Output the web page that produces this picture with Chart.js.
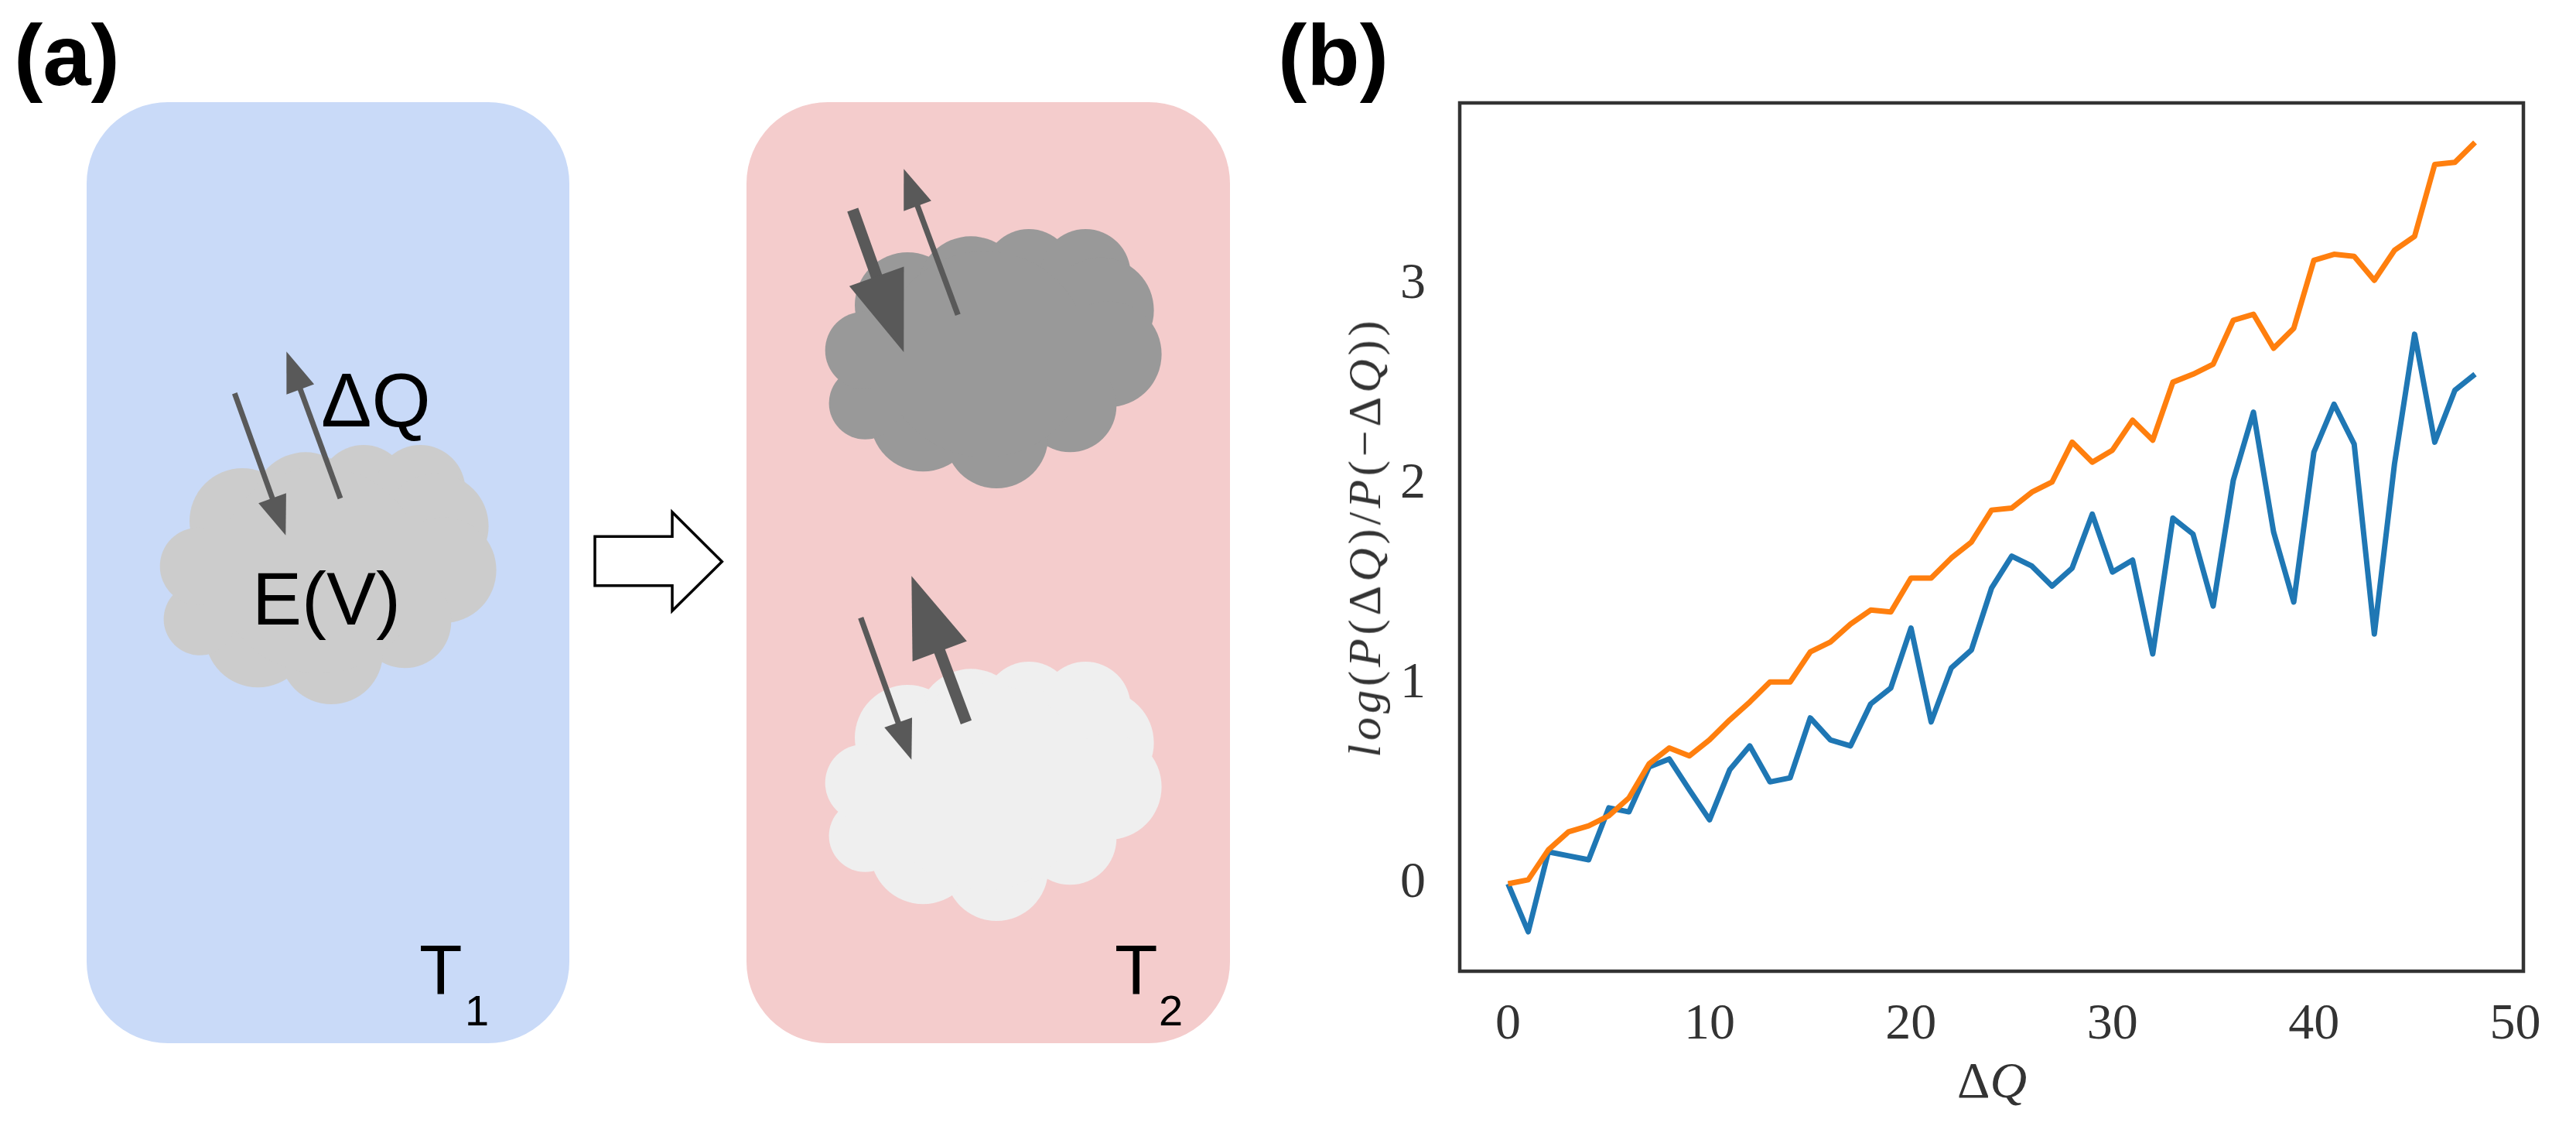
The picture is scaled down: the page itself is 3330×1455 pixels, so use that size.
<!DOCTYPE html>
<html>
<head>
<meta charset="utf-8">
<script src="https://cdn.jsdelivr.net/npm/chart.js@4.4.1/dist/chart.umd.min.js"></script>
<style>
html, body { margin: 0; padding: 0; background: #fff; }
body { width: 3330px; height: 1455px; position: relative; overflow: hidden; font-family: "Liberation Sans", Arial, sans-serif; }
#diagram { position: absolute; left: 0; top: 0; }
#plotBox { position: absolute; left: 1650px; top: 0; width: 1680px; height: 1455px; }
.mathlbl { position: absolute; font-family: "Liberation Serif", serif; color: #333; white-space: nowrap; line-height: 1; }
#xTitle { left: 2575px; top: 1396px; transform: translate(-50%, -50%); font-size: 66px; }
#yTitle { left: 1764px; top: 694px; transform: translate(-50%, -50%) rotate(-90deg); font-size: 60px; letter-spacing: 5px; }
</style>
</head>
<body>

<svg id="diagram" width="3330" height="1455" viewBox="0 0 3330 1455">
  <defs>
    <g id="cloud">
      <circle cx="107.3" cy="98.3" r="68.3"/>
      <circle cx="189" cy="78.3" r="69"/>
      <circle cx="264" cy="58.3" r="58.3"/>
      <circle cx="337.3" cy="58.3" r="58.3"/>
      <circle cx="357.3" cy="105" r="68.3"/>
      <circle cx="367.3" cy="161.7" r="68.3"/>
      <circle cx="317.3" cy="228.3" r="60"/>
      <circle cx="222.3" cy="268.3" r="66.7"/>
      <circle cx="127.3" cy="245" r="68.3"/>
      <circle cx="52.3" cy="225" r="46.7"/>
      <circle cx="50.7" cy="156.7" r="50"/>
      <circle cx="207.3" cy="161.7" r="133.3"/>
      <rect x="60" y="100" width="300" height="140"/>
    </g>
  </defs>

  <text x="18" y="110" font-weight="bold" font-size="112">(a)</text>
  <text x="1652" y="110" font-weight="bold" font-size="112">(b)</text>

  <rect x="112" y="132" width="624" height="1216" rx="105" fill="#c9daf8"/>
  <rect x="965" y="132" width="625" height="1216" rx="105" fill="#f4cccc"/>

  <use href="#cloud" x="206" y="575" fill="#cccccc"/>
  <use href="#cloud" x="1066" y="296" fill="#999999"/>
  <use href="#cloud" x="1066" y="855" fill="#efefef"/>

  <polygon points="769,693.3 869,693.3 869,661.7 933.3,725.7 869,789.3 869,756.7 769,756.7"
           fill="#fff" stroke="#000" stroke-width="3.5"/>

  <g id="arrows" fill="#595959" stroke="none"></g>

  <text x="415" y="551" font-size="98">ΔQ</text>
  <text x="326" y="807" font-size="96">E(V)</text>
  <text x="542" y="1285" font-size="91">T</text>
  <text x="601" y="1325" font-size="56">1</text>
  <text x="1441" y="1285" font-size="91">T</text>
  <text x="1498" y="1325" font-size="56">2</text>
</svg>

<div id="plotBox"><canvas id="myChart"></canvas></div>
<div class="mathlbl" id="xTitle">Δ<i>Q</i></div>
<div class="mathlbl" id="yTitle"><i>log</i>(<i>P</i>(Δ<i>Q</i>)/<i>P</i>(−Δ<i>Q</i>))</div>

<script>
// datos (b)
const deltaQ = [0, 1, 2, 3, 4, 5, 6, 7, 8, 9, 10, 11, 12, 13, 14, 15, 16, 17, 18, 19, 20,
  21, 22, 23, 24, 25, 26, 27, 28, 29, 30, 31, 32, 33, 34, 35, 36, 37, 38, 39, 40,
  41, 42, 43, 44, 45, 46, 47, 48];
const naranja = [0.00, 0.02, 0.17, 0.26, 0.29, 0.34, 0.43, 0.60, 0.68, 0.64, 0.72,
  0.82, 0.91, 1.01, 1.01, 1.16, 1.21, 1.30, 1.37, 1.36, 1.53,
  1.53, 1.63, 1.71, 1.87, 1.88, 1.96, 2.01, 2.21, 2.11, 2.17,
  2.32, 2.22, 2.51, 2.55, 2.60, 2.82, 2.85, 2.68, 2.78, 3.12,
  3.15, 3.14, 3.02, 3.17, 3.24, 3.60, 3.61, 3.71];
const azul = [0.00, -0.24, 0.16, 0.14, 0.12, 0.38, 0.36, 0.585, 0.625, 0.47, 0.32,
  0.57, 0.69, 0.51, 0.53, 0.83, 0.72, 0.69, 0.90, 0.98, 1.28,
  0.81, 1.08, 1.17, 1.48, 1.64, 1.59, 1.49, 1.58, 1.85, 1.56,
  1.62, 1.15, 1.83, 1.75, 1.39, 2.02, 2.36, 1.76, 1.41, 2.16,
  2.40, 2.20, 1.25, 2.10, 2.75, 2.21, 2.47, 2.55];
const xTicks = [0, 10, 20, 30, 40, 50];
const yTicks = [0, 1, 2, 3];

// flechas del diagrama (a): inicio, punta, grosor, largo y medio ancho de la cabeza
function addArrow(g, x1, y1, x2, y2, w, hl, hw) {
  var dx = x2 - x1, dy = y2 - y1;
  var len = Math.hypot(dx, dy), ux = dx / len, uy = dy / len;
  var bx = x2 - ux * hl, by = y2 - uy * hl;
  var ns = 'http://www.w3.org/2000/svg';
  var ln = document.createElementNS(ns, 'line');
  ln.setAttribute('x1', x1); ln.setAttribute('y1', y1);
  ln.setAttribute('x2', bx + ux * 2); ln.setAttribute('y2', by + uy * 2);
  ln.setAttribute('stroke', '#595959'); ln.setAttribute('stroke-width', w);
  g.appendChild(ln);
  var p = document.createElementNS(ns, 'polygon');
  p.setAttribute('points', [x2, y2, bx - uy * hw, by + ux * hw, bx + uy * hw, by - ux * hw].join(' '));
  g.appendChild(p);
}
var g = document.getElementById('arrows');
addArrow(g, 303.3, 508.3, 369.3, 691.7, 7, 51, 19);
addArrow(g, 440, 644, 370.3, 454.3, 7, 52, 19);
addArrow(g, 1102.3, 271, 1168.3, 455, 15, 104, 37.5);
addArrow(g, 1238.3, 406.7, 1168.3, 218.3, 7.3, 51, 19);
addArrow(g, 1112.7, 798.3, 1178.3, 981.7, 7.3, 51, 19);
addArrow(g, 1249, 933.3, 1178.3, 744.3, 15, 104, 37.5);

// margenes como matplotlib (5%)
var todos = azul.concat(naranja);
var yLo = Math.min.apply(null, todos), yHi = Math.max.apply(null, todos);
var yPad = 0.05 * (yHi - yLo);
var xLo = Math.min.apply(null, deltaQ), xHi = Math.max.apply(null, deltaQ);
var xPad = 0.05 * (xHi - xLo);

const marco = {
  id: 'marco',
  afterDraw: function(chart) {
    var a = chart.chartArea, c = chart.ctx;
    c.save();
    c.strokeStyle = '#333';
    c.lineWidth = 4.5;
    c.strokeRect(a.left, a.top, a.right - a.left, a.bottom - a.top);
    c.restore();
  }
};

const tickFont = { family: 'Liberation Serif', size: 66 };
const ctx = document.getElementById('myChart');
new Chart(ctx, {
  type: 'line',
  data: {
    datasets: [{
      label: 'orange',
      data: deltaQ.map(function(q, i) { return { x: q, y: naranja[i] }; }),
      borderColor: '#ff7f0e',
      order: 0
    }, {
      label: 'blue',
      data: deltaQ.map(function(q, i) { return { x: q, y: azul[i] }; }),
      borderColor: '#1f77b4',
      order: 1
    }]
  },
  options: {
    responsive: true,
    maintainAspectRatio: false,
    animation: false,
    devicePixelRatio: 1,
    layout: { padding: { top: 133, right: 68, left: 0, bottom: 0 } },
    plugins: { legend: { display: false }, tooltip: { enabled: false } },
    elements: {
      point: { radius: 0 },
      line: { tension: 0, borderWidth: 7, borderJoinStyle: 'round', fill: false }
    },
    scales: {
      x: {
        type: 'linear',
        min: xLo - xPad,
        max: xHi + xPad,
        grid: { display: false },
        border: { display: false },
        afterBuildTicks: function(s) { s.ticks = xTicks.map(function(v) { return { value: v }; }); },
        afterFit: function(s) { s.height = 200; },
        ticks: { font: tickFont, color: '#333', padding: 22, maxRotation: 0, autoSkip: false }
      },
      y: {
        type: 'linear',
        min: yLo - yPad,
        max: yHi + yPad,
        grid: { display: false },
        border: { display: false },
        afterBuildTicks: function(s) { s.ticks = yTicks.map(function(v) { return { value: v }; }); },
        afterFit: function(s) { s.width = 237; },
        ticks: { font: tickFont, color: '#333', padding: 36 }
      }
    }
  },
  plugins: [marco]
});
</script>
</body>
</html>
